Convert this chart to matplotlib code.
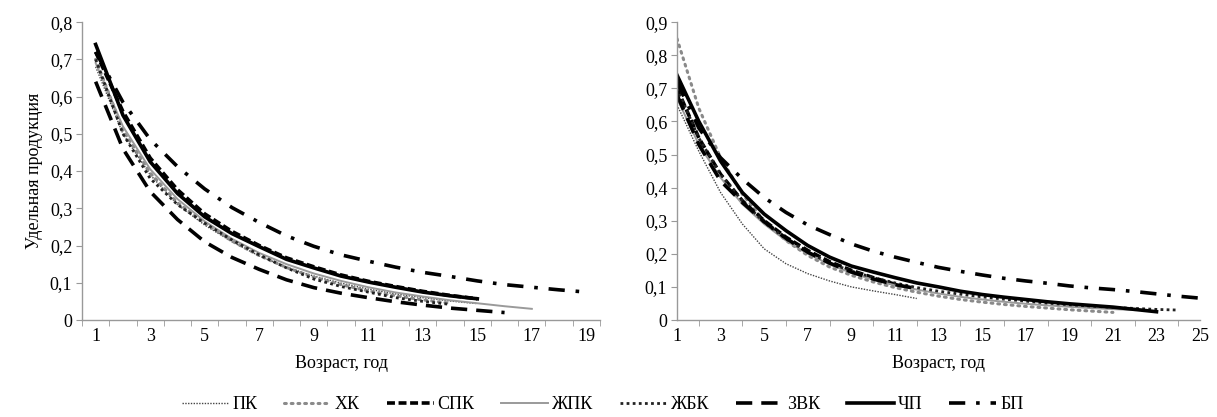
import numpy as np
import matplotlib.pyplot as plt
from matplotlib.ticker import MultipleLocator

plt.rc('font', family='Liberation Serif', size=13)

names = ["ПК", "ХК", "СПК", "ЖПК", "ЖБК", "ЗВК", "ЧП", "БП"]

# left panel
left_pk = [0.68, 0.50, 0.39, 0.31, 0.255, 0.21, 0.172, 0.142, 0.118, 0.099, 0.083, 0.07, 0.06, 0.051, 0.044]
left_hk = [0.70, 0.51, 0.395, 0.315, 0.26, 0.212, 0.173, 0.141, 0.115, 0.095, 0.078, 0.065, 0.054, 0.045]
left_spk = [0.72, 0.56, 0.435, 0.35, 0.285, 0.238, 0.2, 0.167, 0.143, 0.121, 0.104, 0.09, 0.077, 0.066, 0.057]
left_zhpk = [0.69, 0.52, 0.405, 0.325, 0.265, 0.218, 0.18, 0.15, 0.125, 0.105, 0.088, 0.074, 0.063, 0.053, 0.045, 0.037, 0.03]
left_zhbk = [0.70, 0.50, 0.38, 0.31, 0.26, 0.215, 0.175, 0.14, 0.11, 0.09, 0.075, 0.06, 0.05, 0.042]
left_zvk = [0.64, 0.46, 0.345, 0.27, 0.21, 0.168, 0.136, 0.108, 0.087, 0.072, 0.06, 0.049, 0.04, 0.032, 0.026, 0.02]
left_chp = [0.74, 0.55, 0.425, 0.34, 0.277, 0.232, 0.197, 0.163, 0.14, 0.118, 0.102, 0.088, 0.075, 0.065, 0.057]
left_bp = [0.72, 0.585, 0.485, 0.412, 0.352, 0.302, 0.262, 0.226, 0.198, 0.175, 0.158, 0.142, 0.128, 0.117,
           0.105, 0.095, 0.088, 0.081, 0.075]

# right panel
right_pk = [0.65, 0.51, 0.385, 0.29, 0.215, 0.17, 0.14, 0.118, 0.1, 0.088, 0.077, 0.065]
right_hk = [0.85, 0.64, 0.49, 0.38, 0.30, 0.24, 0.195, 0.16, 0.135, 0.115, 0.098, 0.084, 0.072, 0.062,
            0.054, 0.047, 0.041, 0.036, 0.031, 0.027, 0.023]
right_spk = [0.70, 0.55, 0.44, 0.36, 0.30, 0.25, 0.21, 0.176, 0.15, 0.128, 0.108]
right_zhpk = [0.67, 0.53, 0.43, 0.35, 0.29, 0.24, 0.2, 0.168, 0.142, 0.122, 0.105, 0.092, 0.08, 0.07,
              0.062, 0.055, 0.049, 0.044, 0.04, 0.036, 0.033, 0.03]
right_zhbk = [0.70, 0.55, 0.44, 0.36, 0.295, 0.245, 0.205, 0.172, 0.148, 0.128, 0.112, 0.098, 0.087, 0.078,
              0.07, 0.063, 0.057, 0.051, 0.046, 0.042, 0.038, 0.035, 0.032, 0.03]
right_zvk = [0.68, 0.53, 0.42, 0.355, 0.297, 0.247, 0.205, 0.172, 0.145, 0.124, 0.107, 0.095]
right_chp = [0.74, 0.60, 0.48, 0.385, 0.32, 0.27, 0.225, 0.19, 0.163, 0.145, 0.128, 0.112, 0.1, 0.087,
             0.077, 0.069, 0.062, 0.055, 0.049, 0.044, 0.039, 0.032, 0.025]
right_bp = [0.72, 0.58, 0.49, 0.426, 0.37, 0.325, 0.287, 0.258, 0.23, 0.208, 0.19, 0.174, 0.159, 0.147,
            0.136, 0.126, 0.118, 0.111, 0.103, 0.097, 0.092, 0.086, 0.079, 0.072, 0.066]

styles = [
    dict(color='#444444', lw=1.0, dashes=(1, 1)),
    dict(color='#8a8a8a', lw=2.2, dashes=(0.6, 1.6), dash_capstyle='round'),
    dict(color='black', lw=2.6, dashes=(2.2, 1.0)),
    dict(color='#9a9a9a', lw=1.4),
    dict(color='#222222', lw=2.0, dashes=(1, 1.2)),
    dict(color='black', lw=2.6, dashes=(4.5, 2.5)),
    dict(color='black', lw=2.6),
    dict(color='black', lw=2.6, dashes=(4.5, 3, 1, 3)),
]

left = [left_pk, left_hk, left_spk, left_zhpk, left_zhbk, left_zvk, left_chp, left_bp]
right = [right_pk, right_hk, right_spk, right_zhpk, right_zhbk, right_zvk, right_chp, right_bp]

fig = plt.figure(figsize=(12.17, 4.17), dpi=100)
ax1 = fig.add_axes([0.0674, 0.2326, 0.4256, 0.7144])
ax2 = fig.add_axes([0.5563, 0.2326, 0.4298, 0.7144])

lines = []
for vals, st, nm in zip(left, styles, names):
    x = np.arange(1, len(vals) + 1)
    ln, = ax1.plot(x, vals, label=nm, **st)
    lines.append(ln)
for vals, st in zip(right, styles):
    x = np.arange(1, len(vals) + 1)
    ax2.plot(x, vals, **st)

ax1.set_xlim(0.5, 19.5)
ax1.set_ylim(0, 0.8)
ax1.set_xticks(np.arange(1, 20, 2))
ax1.xaxis.set_minor_locator(MultipleLocator(1, offset=0.5))
ax2.set_xlim(1, 25)
ax2.set_ylim(0, 0.9)
ax2.set_xticks(np.arange(1, 26, 2))
ax2.xaxis.set_minor_locator(MultipleLocator(1))

for ax in (ax1, ax2):
    ax.yaxis.set_major_locator(MultipleLocator(0.1))
    ax.yaxis.set_major_formatter(lambda v, p: "0" if abs(v) < 1e-9 else f"{v:.1f}".replace(".", ","))
    for s in ("top", "right"):
        ax.spines[s].set_visible(False)
    for s in ("left", "bottom"):
        ax.spines[s].set_color('#999999')
        ax.spines[s].set_linewidth(1.0)
    ax.tick_params(axis='x', which='major', length=0, pad=6)
    ax.tick_params(axis='x', which='minor', length=4, color='#999999', direction='out')
    ax.tick_params(axis='y', length=4, color='#999999', pad=3)
    ax.set_xlabel("Возраст, год", labelpad=7)

ax1.set_ylabel("Удельная продукция", labelpad=4)
ax1.yaxis.set_label_coords(-0.075, 0.5)

fig.legend(handles=lines, loc='center', bbox_to_anchor=(0.495, 0.03), ncol=8, frameon=False,
           handlelength=2.6, handletextpad=0.2, columnspacing=1.5, fontsize=13)

plt.savefig("out.png", dpi=100)
